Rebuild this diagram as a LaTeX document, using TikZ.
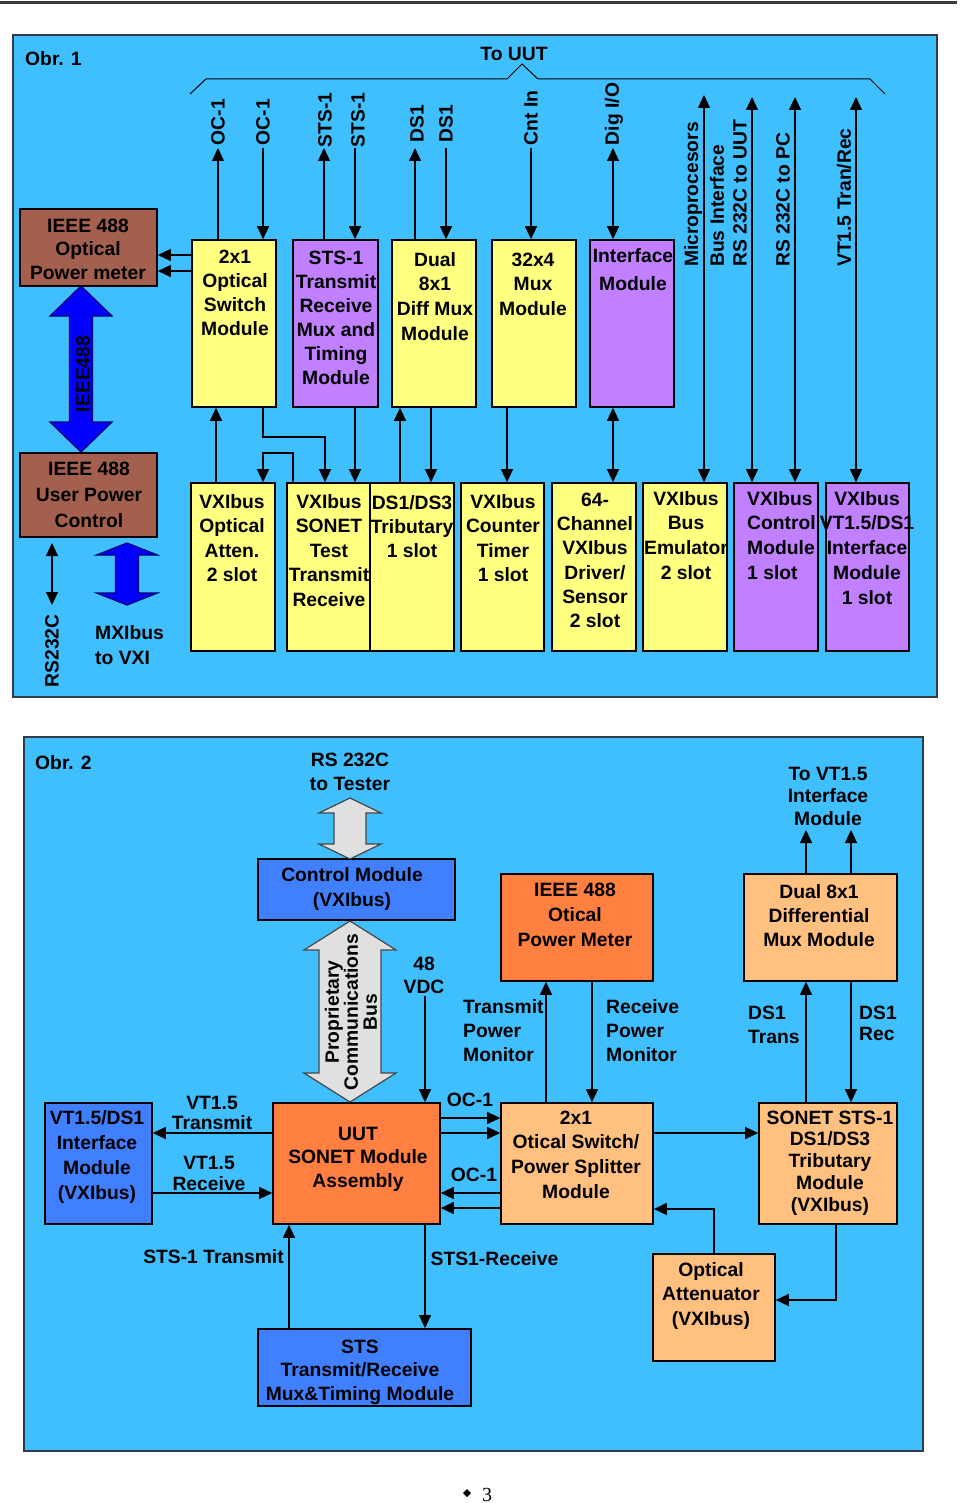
\documentclass[tikz,border=0pt]{standalone}
\usepackage{fontspec}
\setmainfont{Liberation Sans}
\newfontfamily\serifpn{Liberation Serif}
\usetikzlibrary{arrows.meta,fit,calc}

\definecolor{panelblue}{RGB}{64,191,255}
\definecolor{paneledge}{RGB}{50,60,70}
\definecolor{boxyellow}{RGB}{255,255,128}
\definecolor{boxpurple}{RGB}{192,128,255}
\definecolor{boxbrown}{RGB}{163,96,78}
\definecolor{boxblue}{RGB}{64,128,255}
\definecolor{boxorange}{RGB}{255,128,64}
\definecolor{boxlorange}{RGB}{255,192,128}
\definecolor{fatgrayc}{RGB}{224,224,224}
\definecolor{fatbluec}{RGB}{0,0,255}
\definecolor{fatblueedge}{RGB}{0,0,110}
\definecolor{fatgrayedge}{RGB}{70,70,70}
\definecolor{topline}{RGB}{60,60,60}

\tikzset{
  panel/.style={fill=panelblue, draw=paneledge, line width=1.2pt},
  box/.style={draw=black, line width=1.6pt, inner sep=0pt},
  ybox/.style={box, fill=boxyellow},
  pbox/.style={box, fill=boxpurple},
  brbox/.style={box, fill=boxbrown},
  bbox/.style={box, fill=boxblue},
  obox/.style={box, fill=boxorange},
  lobox/.style={box, fill=boxlorange},
  conn/.style={line width=1.2pt, draw=black},
  arr/.style={conn, -{Triangle[length=13pt,width=12pt]}},
  darr/.style={conn, {Triangle[length=13pt,width=12pt]}-{Triangle[length=13pt,width=12pt]}},
  fatblue/.style={fill=fatbluec, draw=fatblueedge, line width=1.2pt},
  fatgray/.style={fill=fatgrayc, draw=fatgrayedge, line width=1.2pt},
  txt/.style={font=\fontsize{19.3}{#1}\selectfont\bfseries, inner sep=0pt, align=center},
  txt/.default=24.5
}

\newcommand\btext[5]{\node[txt=#4, anchor=north] (#1) at (#2,{#3+6.9-0.7*#4}) {\strut#5};}
\newcommand\ltext[5]{\node[txt=#4, align=left, anchor=north west] (#1) at (#2,{#3+6.9-0.7*#4}) {\strut#5};}
\newcommand\fatarr[7]{\draw[#1] (#2,#3) -- ({#2+#6},{#3+#7}) -- ({#2+#5},{#3+#7}) -- ({#2+#5},{#4-#7}) -- ({#2+#6},{#4-#7}) -- (#2,#4) -- ({#2-#6},{#4-#7}) -- ({#2-#5},{#4-#7}) -- ({#2-#5},{#3+#7}) -- ({#2-#6},{#3+#7}) -- cycle;}

\begin{document}
\begin{tikzpicture}[x=1pt,y=-1pt]
\useasboundingbox (0,0) rectangle (960,1503);
\fill[white] (0,0) rectangle (960,1503);
\draw[line width=2.4pt, draw=topline] (0,2.5) -- (957,2.5);

% ================= Obr. 1 =================
\draw[panel] (13,35) rectangle (937,697);
\node[txt, anchor=west] (obr1) at (25,59) {Obr. 1};
\node[txt] (toUUT) at (514,54) {To UUT};
\draw[conn, line width=1pt] (190,94) -- (206,79) -- (507,79) -- (522,64) -- (538,79) -- (870,79) -- (885,94);

% boxes top row
\node[ybox, fit={(192,240) (276,407)}] (A) {};
\node[pbox, fit={(293,240) (378,407)}] (B) {};
\node[ybox, fit={(392,240) (476,407)}] (C) {};
\node[ybox, fit={(492,240) (576,407)}] (D) {};
\node[pbox, fit={(590,240) (674,407)}] (E) {};
\node[brbox, fit={(20,209) (157,286)}] (PM1) {};
\node[brbox, fit={(20,453) (157,537)}] (UPC) {};
% bottom row
\node[ybox, fit={(191,483) (275,651)}] (F) {};
\node[ybox, fit={(287,483) (370,651)}] (G) {};
\node[ybox, fit={(370,483) (454,651)}] (H) {};
\node[ybox, fit={(461,483) (544,651)}] (I) {};
\node[ybox, fit={(552,483) (636,651)}] (J) {};
\node[ybox, fit={(643,483) (727,651)}] (K) {};
\node[pbox, fit={(734,483) (818,651)}] (L) {};
\node[pbox, fit={(826,483) (909,651)}] (M) {};

\btext{At}{235}{256}{24}{2x1\\Optical\\Switch\\Module}
\btext{Bt}{336}{257}{24}{STS-1\\Transmit\\Receive\\Mux and\\Timing\\Module}
\btext{Ct}{435}{259}{24.7}{Dual\\8x1\\Diff Mux\\Module}
\btext{Dt}{533}{259}{24.5}{32x4\\Mux\\Module}
\btext{Et}{633}{255}{28}{Interface\\Module}
\btext{PM1t}{88}{225}{23.5}{IEEE 488\\Optical\\Power meter}
\btext{UPCt}{89}{468}{26}{IEEE 488\\User Power\\Control}
\btext{Ft}{232}{501}{24.5}{VXIbus\\Optical\\Atten.\\2 slot}
\btext{Gt}{329}{501}{24.5}{VXIbus\\SONET\\Test\\Transmit\\Receive}
\btext{Ht}{412}{502}{24}{DS1/DS3\\Tributary\\1 slot}
\btext{It}{503}{501}{24.5}{VXIbus\\Counter\\Timer\\1 slot}
\btext{Jt}{595}{499}{24.3}{64-\\Channel\\VXIbus\\Driver/\\Sensor\\2 slot}
\btext{Kt}{686}{498}{24.7}{VXIbus\\Bus\\Emulator\\2 slot}
\ltext{Lt}{747}{498}{24.7}{VXIbus\\Control\\Module\\1 slot}
\btext{Mt}{867}{498}{24.8}{VXIbus\\VT1.5/DS1\\Interface\\Module\\1 slot}

% top rotated labels
\node[txt, rotate=90] (lOCa) at (218,122) {OC-1};
\node[txt, rotate=90] (lOCb) at (263,122) {OC-1};
\node[txt, rotate=90] (lSTa) at (325,120) {STS-1};
\node[txt, rotate=90] (lSTb) at (358,120) {STS-1};
\node[txt, rotate=90] (lDSa) at (417,124) {DS1};
\node[txt, rotate=90] (lDSb) at (446,124) {DS1};
\node[txt, rotate=90] (lCnt) at (531,118) {Cnt In};
\node[txt, rotate=90] (lDig) at (614,114) {Dig I/O};
\node[txt, rotate=90, anchor=west] (lMic) at (693,267) {Microprocesors};
\node[txt, rotate=90, anchor=west] (lBus) at (717,267) {Bus Interface};
\node[txt, rotate=90, anchor=west] (lRSU) at (740,267) {RS 232C to UUT};
\node[txt, rotate=90, anchor=west] (lRSP) at (783,267) {RS 232C to PC};
\node[txt, rotate=90, anchor=west] (lVT) at (844,267) {VT1.5 Tran/Rec};

% top connectors
\coordinate (tOCa) at (218,148);
\coordinate (tOCb) at (263,148);
\coordinate (tSTa) at (324,148);
\coordinate (tSTb) at (355,148);
\coordinate (tDSa) at (415,148);
\coordinate (tDSb) at (446,148);
\coordinate (tCnt) at (531,148);
\coordinate (tDig) at (613,148);
\coordinate (tMic) at (704,95);
\coordinate (tRSU) at (752,97);
\coordinate (tRSP) at (795,97);
\coordinate (tVT) at (856,97);
\draw[arr] (tOCa |- A.north) -- (tOCa);
\draw[arr] (tOCb) -- (tOCb |- A.north);
\draw[arr] (tSTa |- B.north) -- (tSTa);
\draw[arr] (tSTb) -- (tSTb |- B.north);
\draw[arr] (tDSa |- C.north) -- (tDSa);
\draw[arr] (tDSb) -- (tDSb |- C.north);
\draw[arr] (tCnt) -- (tCnt |- D.north);
\draw[darr] (tDig) -- (tDig |- E.north);
\draw[darr] (tMic |- K.north) -- (tMic);
\draw[darr] (tRSU |- L.north) -- (tRSU);
\draw[darr] (tRSP |- L.north) -- (tRSP);
\draw[darr] (tVT |- M.north) -- (tVT);

% A -> power meter
\coordinate (hA1) at (0,255);
\coordinate (hA2) at (0,271);
\draw[arr] (A.west |- hA1) -- (PM1.east |- hA1);
\draw[arr] (A.west |- hA2) -- (PM1.east |- hA2);

% between rows
\coordinate (v216) at (216,0);
\coordinate (jA) at (263,437);
\coordinate (jB) at (325,437);
\coordinate (jC) at (293,453);
\coordinate (jD) at (263,453);
\coordinate (v355) at (355,0);
\coordinate (v400) at (400,0);
\coordinate (v431) at (431,0);
\coordinate (v507) at (507,0);
\draw[arr] (v216 |- F.north) -- (v216 |- A.south);
\draw[arr] (jA |- A.south) -- (jA) -- (jB) -- (jB |- G.north);
\draw[arr] (jC |- G.north) -- (jC) -- (jD) -- (jD |- F.north);
\draw[arr] (v355 |- B.south) -- (v355 |- G.north);
\draw[arr] (v400 |- H.north) -- (v400 |- C.south);
\draw[arr] (v431 |- C.south) -- (v431 |- H.north);
\draw[arr] (v507 |- D.south) -- (v507 |- I.north);
\draw[darr] (tDig |- E.south) -- (tDig |- J.north);

% fat arrows left
\fatarr{fatblue}{81}{286}{452}{11.5}{31}{30}
\node[txt, rotate=90] (ieee) at (83,374) {IEEE488};
\fatarr{fatblue}{127}{543}{605}{11.5}{30.5}{12}
\coordinate (rsT) at (52,543);
\coordinate (rsB) at (52,605);
\draw[darr] (rsT) -- (rsB);
\node[txt, rotate=90] (rs232) at (52,651) {RS232C};
\ltext{mxi}{95}{632}{25}{MXIbus\\to VXI}

% ================= Obr. 2 =================
\draw[panel] (24,737) rectangle (923,1451);
\node[txt, anchor=west] (obr2) at (35,763) {Obr. 2};
\btext{rsTester}{350}{759}{24}{RS 232C\\to Tester}

\node[bbox, fit={(258,859) (455,920)}] (CM) {};
\node[obox, fit={(273,1103) (440,1224)}] (UUT) {};
\node[bbox, fit={(45,1103) (152,1224)}] (VT) {};
\node[bbox, fit={(258,1329) (471,1406)}] (STS) {};
\node[lobox, fit={(501,1103) (653,1224)}] (SW) {};
\node[obox, fit={(501,874) (653,981)}] (OPM) {};
\node[lobox, fit={(744,874) (897,981)}] (DM) {};
\node[lobox, fit={(759,1103) (897,1224)}] (SON) {};
\node[lobox, fit={(653,1254) (775,1361)}] (ATT) {};

\btext{CMt}{352}{874}{25}{Control Module\\(VXIbus)}
\btext{OPMt}{575}{889}{25}{IEEE 488\\Otical\\Power Meter}
\btext{DMt}{819}{891}{24}{Dual 8x1\\Differential\\Mux Module}
\btext{VTt}{97}{1117}{25}{VT1.5/DS1\\Interface\\Module\\(VXIbus)}
\btext{UUTt}{358}{1133}{23.5}{UUT\\SONET Module\\Assembly}
\btext{SWt}{576}{1117}{24.7}{2x1\\Otical Switch/\\Power Splitter\\Module}
\btext{SONt}{830}{1117}{21.8}{SONET STS-1\\DS1/DS3\\Tributary\\Module\\(VXIbus)}
\btext{STSt}{360}{1346}{23.5}{STS\\Transmit/Receive\\Mux\&Timing Module}
\btext{ATTt}{711}{1269}{24.5}{Optical\\Attenuator\\(VXIbus)}

\btext{vdc}{424}{963}{23}{48\\VDC}
\ltext{tpm}{463}{1006}{24}{Transmit\\Power\\Monitor}
\ltext{rpm}{606}{1006}{24}{Receive\\Power\\Monitor}
\btext{toVT}{828}{773}{22.5}{To VT1.5\\Interface\\Module}
\ltext{ds1t}{748}{1012}{24}{DS1\\Trans}
\ltext{ds1r}{859}{1012}{21}{DS1\\Rec}
\btext{vtt}{212}{1102}{20.5}{VT1.5\\Transmit}
\btext{vtr}{209}{1162}{21}{VT1.5\\Receive}
\node[txt] (oc1u) at (470,1100) {OC-1};
\node[txt] (oc1l) at (474,1175) {OC-1};
\node[txt] (sts1t) at (213.5,1257) {STS-1 Transmit};
\node[txt] (sts1r) at (494.5,1259) {STS1-Receive};

% fat gray arrows
\fatarr{fatgray}{350}{798}{859}{16}{31}{15}
\fatarr{fatgray}{350}{921}{1102}{31}{46}{29}
\node[txt=19, rotate=90] (prop) at (351,1012) {Proprietary\\Communications\\Bus};

% connectors Obr. 2
\coordinate (c48) at (425,996);
\draw[arr] (c48) -- (c48 |- UUT.north);
\coordinate (hVT1) at (0,1133);
\coordinate (hVT2) at (0,1193);
\draw[arr] (UUT.west |- hVT1) -- (VT.east |- hVT1);
\draw[arr] (VT.east |- hVT2) -- (UUT.west |- hVT2);
\coordinate (hOC1) at (0,1118);
\coordinate (hOC2) at (0,1133);
\coordinate (hOC3) at (0,1193);
\coordinate (hOC4) at (0,1208);
\draw[arr] (UUT.east |- hOC1) -- (SW.west |- hOC1);
\draw[arr] (UUT.east |- hOC2) -- (SW.west |- hOC2);
\draw[arr] (SW.west |- hOC3) -- (UUT.east |- hOC3);
\draw[arr] (SW.west |- hOC4) -- (UUT.east |- hOC4);
\coordinate (v289) at (289,0);
\draw[arr] (v289 |- STS.north) -- (v289 |- UUT.south);
\draw[arr] (c48 |- UUT.south) -- (c48 |- STS.north);
\coordinate (v546) at (546,0);
\coordinate (v592) at (592,0);
\draw[arr] (v546 |- SW.north) -- (v546 |- OPM.south);
\draw[arr] (v592 |- OPM.south) -- (v592 |- SW.north);
\coordinate (tV1) at (806,830);
\coordinate (tV2) at (851,830);
\draw[arr] (tV1 |- DM.north) -- (tV1);
\draw[arr] (tV2 |- DM.north) -- (tV2);
\draw[arr] (tV1 |- SON.north) -- (tV1 |- DM.south);
\draw[arr] (tV2 |- DM.south) -- (tV2 |- SON.north);
\draw[arr] (SW.east |- hOC2) -- (SON.west |- hOC2);
\coordinate (jE) at (836,1300);
\coordinate (jF) at (714,1209);
\draw[arr] (jE |- SON.south) -- (jE) -- (ATT.east |- jE);
\draw[arr] (jF |- ATT.north) -- (jF) -- (SW.east |- jF);

% page number
\fill (467,1489) -- (471,1493) -- (467,1497) -- (463,1493) -- cycle;
\node[font=\serifpn\fontsize{20}{24}\selectfont, inner sep=0pt] (pg) at (487,1495) {3};
\end{tikzpicture}
\end{document}
